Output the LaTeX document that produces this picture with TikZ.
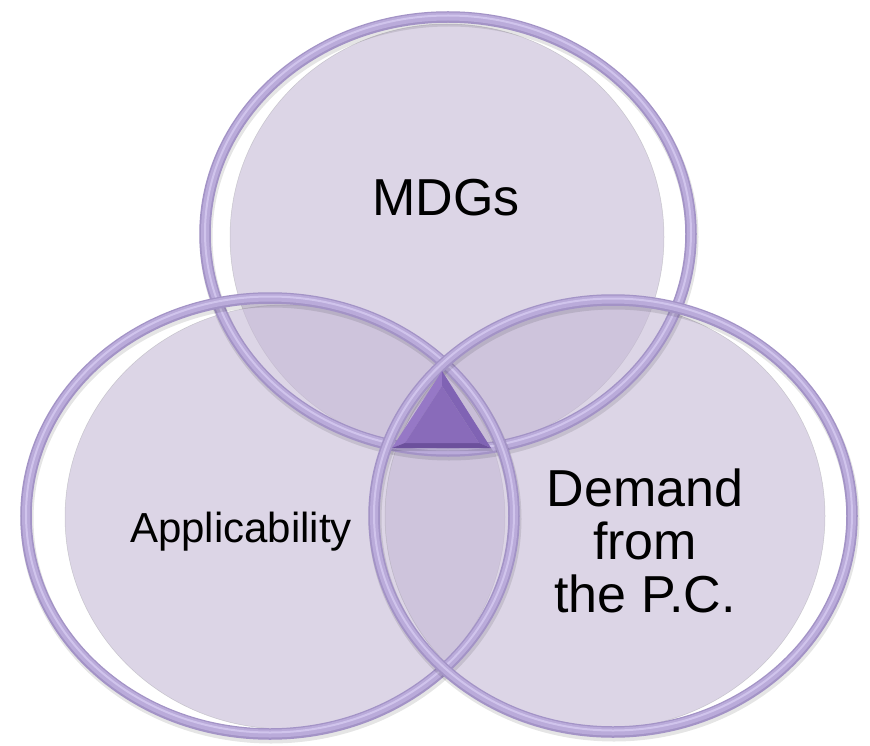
\documentclass[tikz,border=0pt]{standalone}
\usepackage{fontspec}
\setmainfont{Liberation Sans}
\definecolor{discC}{RGB}{197,185,213}
\definecolor{discEdge}{RGB}{150,150,155}
\definecolor{ringBase}{RGB}{163,147,198}
\definecolor{ringMid}{RGB}{186,171,218}
\definecolor{ringHi}{RGB}{208,196,236}
\definecolor{triLight}{RGB}{150,120,198}
\definecolor{triMid}{RGB}{128,99,180}
\definecolor{triDark}{RGB}{108,80,156}
\definecolor{triFace}{RGB}{137,107,186}
\begin{document}
\begin{tikzpicture}[x=1pt,y=-1pt,
  discfill/.style={fill=discC, fill opacity=0.59, draw=discEdge, draw opacity=0.4, line width=0.5pt},
  ringshadow/.style={draw=black, draw opacity=0.10, line width=13pt},
  ringbase/.style={draw=ringBase, line width=11.5pt},
  ringmid/.style={draw=ringMid, line width=8pt},
  ringhi/.style={draw=ringHi, line width=2pt},
  lbl/.style={inner sep=0pt, text=black, align=center}]
\useasboundingbox (0,0) rectangle (870,746);
\fill[white] (0,0) rectangle (870,746);
% fills
\path[discfill] (447,237) ellipse [x radius=217pt, y radius=213pt];
\path[discfill] (285,517) ellipse [x radius=220pt, y radius=212pt];
\path[discfill] (605,516) ellipse [x radius=220pt, y radius=213pt];
% rings
\foreach \cx/\cy/\rx/\ry in {448/234/243/217, 270/516/244/218, 613/516/239/216}{
  \draw[ringshadow] (\cx+1,\cy+3) ellipse [x radius=\rx pt, y radius=\ry pt];
  \draw[ringbase] (\cx,\cy) ellipse [x radius=\rx pt, y radius=\ry pt];
  \draw[ringmid] (\cx,\cy-0.5) ellipse [x radius=\rx pt, y radius=\ry pt];
  \draw[ringhi] (\cx,\cy-1.5) ellipse [x radius=\rx pt, y radius=\ry pt];
}
% triangle
\coordinate (ta) at (442,371);
\coordinate (tb) at (392,448);
\coordinate (tc) at (491,448);
\coordinate (ia) at (442,386);
\coordinate (ib) at (405,443);
\coordinate (ic) at (479,443);
\fill[black, opacity=0.12] (443,374) -- (394,451) -- (493,451) -- cycle;
\fill[triLight] (ta) -- (tb) -- (ib) -- (ia) -- cycle;
\fill[triMid] (ta) -- (ia) -- (ic) -- (tc) -- cycle;
\fill[triDark] (tb) -- (tc) -- (ic) -- (ib) -- cycle;
\fill[triFace] (ia) -- (ib) -- (ic) -- cycle;
% labels
\node[lbl, font=\fontsize{52}{53}\selectfont] (mdgs) at (446,198) {MDGs};
\node[lbl, font=\fontsize{42}{44}\selectfont] (appl) at (241,532) {Applicability};
\node[lbl, font=\fontsize{52}{53}\selectfont] (dem) at (645,541) {Demand\\from\\the P.C.};
\end{tikzpicture}
\end{document}
